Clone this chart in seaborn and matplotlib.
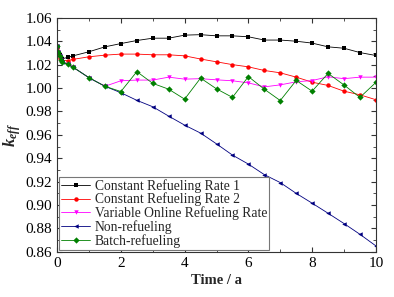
"""
k_eff vs time for several refueling schemes.
"""

import pandas as pd
import matplotlib
matplotlib.use("Agg")
import matplotlib.pyplot as plt
import seaborn as sns
from matplotlib.ticker import MultipleLocator

# === data ===
time = [0, 0.04, 0.08, 0.12, 0.16, 0.33, 0.5,
        1.0, 1.5, 2.0, 2.5, 3.0, 3.5, 4.0, 4.5, 5.0, 5.5, 6.0,
        6.5, 7.0, 7.5, 8.0, 8.5, 9.0, 9.5, 10.0]

const_rate_1 = [1.035, 1.031, 1.028, 1.026, 1.025, 1.0262, 1.0275,
                1.031, 1.0352, 1.038, 1.0406, 1.0426, 1.0426, 1.0452, 1.0456,
                1.0446, 1.0446, 1.0438, 1.041, 1.041, 1.040, 1.0384, 1.0352,
                1.034, 1.0303, 1.0278]

const_rate_2 = [1.034, 1.029, 1.026, 1.024, 1.0235, 1.0235, 1.0245,
                1.0267, 1.0281, 1.029, 1.029, 1.0284, 1.0284, 1.0275, 1.0248,
                1.0224, 1.020, 1.0181, 1.015, 1.013, 1.0093, 1.005, 1.0022,
                0.9973, 0.9942, 0.990]

variable_online = [1.0355, 1.031, 1.027, 1.024, 1.022, 1.0205, 1.0178,
                   1.0088, 1.0015, 1.0062, 1.0068, 1.0068, 1.0093, 1.0076,
                   1.008, 1.007, 1.0062, 1.0044, 1.001, 1.0027, 1.0053,
                   1.0064, 1.0096, 1.008, 1.0093, 1.0093]

non_refueling = [1.0355, 1.031, 1.027, 1.024, 1.022, 1.0205, 1.0178,
                 1.0088, 1.0015, 0.996, 0.9895, 0.984, 0.976, 0.9683,
                 0.9615, 0.9523, 0.9427, 0.935, 0.926, 0.9192, 0.910,
                 0.9016, 0.893, 0.8842, 0.875, 0.8651]

batch_refueling = [1.0355, 1.031, 1.027, 1.024, 1.022, 1.0205, 1.0178,
                   1.0088, 1.0015, 0.997, 1.014, 1.004, 0.999, 0.9905,
                   1.0085, 0.9993, 0.992, 1.0098, 0.999, 0.9893, 1.0065,
                   0.9973, 1.0125, 1.0026, 0.992, 1.0048]

labels = ["Constant Refueling Rate 1", "Constant Refueling Rate 2",
          "Variable Online Refueling Rate", "Non-refueling", "Batch-refueling"]
series = [const_rate_1, const_rate_2, variable_online, non_refueling,
          batch_refueling]
colors = ["#000000", "#ff0000", "#ff00ff", "#000080", "#008000"]
markers = ["s", "o", "v", "<", "D"]

df = pd.concat(
    [pd.DataFrame({"time": time, "keff": s, "case": lab})
     for lab, s in zip(labels, series)],
    ignore_index=True,
)

# === style ===
sns.set_style("ticks")
plt.rcParams["font.family"] = ["Liberation Serif", "DejaVu Serif"]
plt.rcParams["mathtext.fontset"] = "custom"
plt.rcParams["mathtext.it"] = "Liberation Serif:italic:bold"
plt.rcParams["mathtext.rm"] = "Liberation Serif:bold"

fig = plt.figure(figsize=(3.94, 2.97), dpi=100)
ax = fig.add_axes([0.145, 0.152, 0.809, 0.788])

sns.lineplot(
    data=df, x="time", y="keff", hue="case", style="case",
    hue_order=labels, style_order=labels,
    palette=dict(zip(labels, colors)),
    markers=dict(zip(labels, markers)), dashes=False,
    linewidth=0.6, markersize=3.2, markeredgewidth=0,
    ax=ax, sort=False, errorbar=None,
)

ax.set_xlim(0, 10)
ax.set_ylim(0.86, 1.06)
ax.xaxis.set_major_locator(MultipleLocator(2))
ax.xaxis.set_minor_locator(MultipleLocator(1))
ax.yaxis.set_major_locator(MultipleLocator(0.02))
ax.yaxis.set_minor_locator(MultipleLocator(0.01))
ax.yaxis.set_major_formatter(plt.FormatStrFormatter("%.2f"))
ax.tick_params(which="both", direction="in", top=True, right=True,
               labelsize=11, colors="#333333", labelcolor="black")
ax.tick_params(which="major", length=3.5, width=0.8)
ax.tick_params(which="minor", length=2, width=0.6)
for sp in ax.spines.values():
    sp.set_visible(True)
    sp.set_linewidth(0.8)
    sp.set_color("#333333")

ax.set_xlabel("Time / a", fontsize=10.5, fontweight="bold", labelpad=3)
ax.set_ylabel(r"$k_{eff}$", fontsize=12, labelpad=2)

leg = ax.legend(loc="lower left", fontsize=9.8, frameon=True, fancybox=False,
                edgecolor="#777777", framealpha=1, borderpad=0.15,
                labelspacing=0.0, handlelength=2.1, handletextpad=0.35,
                borderaxespad=0.15)
leg.get_frame().set_linewidth(0.8)

plt.savefig("out.png", dpi=100)
